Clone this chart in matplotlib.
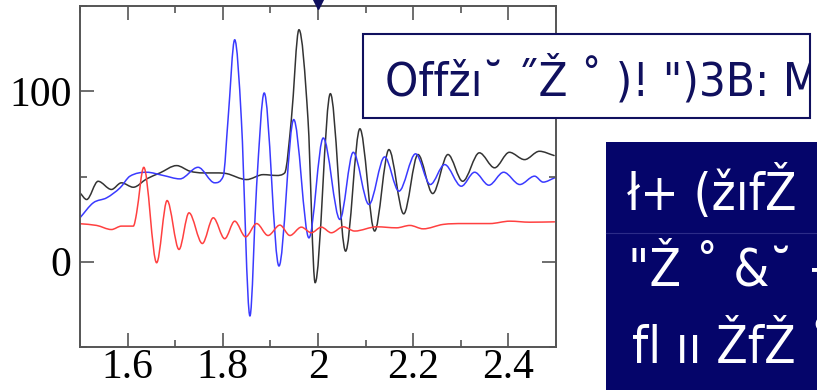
import matplotlib
matplotlib.use("Agg")
import matplotlib.pyplot as plt
from matplotlib.patches import Rectangle, PathPatch
from matplotlib.path import Path
from matplotlib.ticker import MultipleLocator

# traced signals: time axis and amplitude for each channel
black_x = [1.500, 1.514, 1.538, 1.566, 1.587, 1.612, 1.640, 1.668, 1.703, 1.731,
           1.759, 1.787, 1.808, 1.850, 1.885, 1.913, 1.930, 1.944, 1.960,
           1.979, 1.994, 2.026, 2.058, 2.088, 2.119, 2.149, 2.180, 2.210,
           2.241, 2.273, 2.304, 2.339, 2.371, 2.402, 2.434, 2.465, 2.496]
black_y = [40.4, 36.5, 47.2, 42.4, 46.3, 43.7, 48.6, 52.1, 56.4, 53.1,
           52.1, 52.1, 51.7, 48.2, 51.1, 50.6, 52.1, 83.4, 136.1,
           83.4, -12.3, 98.6, 6.2, 78.0, 18.0, 65.8, 28.1, 62.9,
           40.0, 62.9, 47.2, 63.9, 55.1, 64.2, 59.9, 64.8, 62.3]

blue_x = [1.500, 1.528, 1.556, 1.584, 1.605, 1.640, 1.675, 1.710, 1.748, 1.783,
          1.801, 1.811, 1.825, 1.839, 1.857, 1.871, 1.887, 1.918, 1.949, 1.981,
          2.011, 2.046, 2.074, 2.107, 2.140, 2.170, 2.205, 2.236, 2.266, 2.301,
          2.329, 2.359, 2.390, 2.424, 2.455, 2.473, 2.497]
blue_y = [25.8, 34.6, 37.5, 43.3, 50.2, 52.5, 50.6, 48.6, 55.4, 46.3,
          50.2, 83.4, 130.2, 83.4, -31.8, 44.3, 99.0, -2.5, 83.4, 14.0,
          72.6, 24.8, 64.2, 33.6, 61.5, 41.4, 63.3, 45.3, 57.0, 44.3,
          52.5, 44.9, 52.5, 45.3, 50.2, 46.7, 49.2]

red_x = [1.500, 1.535, 1.566, 1.587, 1.612, 1.619, 1.634, 1.661, 1.683,
         1.708, 1.729, 1.757, 1.780, 1.804, 1.825, 1.848, 1.871, 1.895, 1.920,
         1.941, 1.965, 1.986, 2.007, 2.028, 2.053, 2.077, 2.123, 2.165, 2.193,
         2.221, 2.263, 2.305, 2.361, 2.403, 2.445, 2.497]
red_y = [22.3, 21.3, 18.9, 20.9, 20.9, 28.7, 55.4, -0.6, 35.9,
         7.2, 28.7, 10.7, 25.8, 13.5, 23.8, 14.6, 22.4, 15.4, 21.5,
         15.4, 20.3, 17.0, 20.3, 17.0, 20.5, 18.0, 20.5, 19.9, 21.3,
         19.3, 21.9, 22.4, 22.4, 23.8, 23.2, 23.4]

marker_x = 2.0
x_ticks = [1.6, 1.8, 2.0, 2.2, 2.4]
x_tick_labels = ["1.6", "1.8", "2", "2.2", "2.4"]
y_ticks = [0, 100]

title_text = "Offžı˘ ˝Ž ˚ )! \")3B: M"
panel_lines = ["ł+ (žıfŽ", "\"Ž ˚ &˘ +", "fl ıı ŽfŽ ˚"]

navy = "#10105e"
W, H = 817, 390


def smooth_line(ax, xs, ys, color):
    # monotone cubic through the traced points, drawn as a bezier path
    n = len(xs)
    d = [(ys[i + 1] - ys[i]) / (xs[i + 1] - xs[i]) for i in range(n - 1)]
    m = [d[0]] + [0.0] * (n - 2) + [d[-1]]
    for i in range(1, n - 1):
        if d[i - 1] * d[i] > 0:
            s = (ys[i + 1] - ys[i - 1]) / (xs[i + 1] - xs[i - 1])
            lim = 3 * min(abs(d[i - 1]), abs(d[i]))
            m[i] = max(-lim, min(lim, s))
    verts = [(xs[0], ys[0])]
    codes = [Path.MOVETO]
    for i in range(n - 1):
        h = (xs[i + 1] - xs[i]) / 3
        verts += [(xs[i] + h, ys[i] + m[i] * h),
                  (xs[i + 1] - h, ys[i + 1] - m[i + 1] * h),
                  (xs[i + 1], ys[i + 1])]
        codes += [Path.CURVE4] * 3
    ax.add_patch(PathPatch(Path(verts, codes), fill=False, edgecolor=color,
                           lw=1.1, capstyle="round", joinstyle="round"))


fig = plt.figure(figsize=(W / 100, H / 100), dpi=100)
ax = fig.add_axes([80 / W, 1 - 347 / H, 476 / W, 341 / H])

smooth_line(ax, black_x, black_y, "#333333")
smooth_line(ax, blue_x, blue_y, "#3a3aff")
smooth_line(ax, red_x, red_y, "#ff4040")

ax.set_xlim(1.5, 2.5)
ax.set_ylim(-50, 150)
ax.set_xticks(x_ticks)
ax.set_xticklabels(x_tick_labels)
ax.set_yticks(y_ticks)
ax.xaxis.set_minor_locator(MultipleLocator(0.1))
ax.yaxis.set_minor_locator(MultipleLocator(50))
ax.tick_params(which="both", direction="in", top=True, right=True,
               color="#555555", width=1.2)
ax.tick_params(which="major", length=10, labelsize=30)
ax.tick_params(axis="x", which="major", pad=1)
ax.tick_params(axis="y", which="major", pad=6)
ax.tick_params(which="minor", length=5)
for lab in ax.get_xticklabels() + ax.get_yticklabels():
    lab.set_fontfamily("Liberation Serif")
for sp in ax.spines.values():
    sp.set_color("#555555")
    sp.set_linewidth(1.4)

# pointer above the axes
ax.plot([marker_x], [152.5], marker="v", markersize=10, color=navy,
        clip_on=False, zorder=5)

# title box
box = Rectangle((363 / W, 1 - 118 / H), 447 / W, 84 / H,
                transform=fig.transFigure, facecolor="white",
                edgecolor=navy, lw=1.5, zorder=3)
fig.patches.append(box)
t = fig.text(385 / W, 1 - 95 / H, title_text, color=navy, fontsize=34,
             family=["DejaVu Sans"], fontstretch="condensed",
             va="baseline", zorder=4)
t.set_clip_path(box)

# dark side panel
fig.patches.append(Rectangle((606 / W, 0), 211 / W, 1 - 142 / H,
                             transform=fig.transFigure, facecolor="#05056a",
                             edgecolor="none", zorder=3))
fig.add_artist(plt.Line2D([606 / W, 1], [1 - 233 / H] * 2, color="#2c2c88",
                          lw=0.8, transform=fig.transFigure, zorder=4))
for line, xp, base in zip(panel_lines, [627, 628, 632], [210, 285, 363]):
    fig.text(xp / W, 1 - base / H, line, color="white", fontsize=37,
             family=["DejaVu Sans"], fontstretch="condensed",
             va="baseline", zorder=4)

fig.savefig("out.png", dpi=100)
